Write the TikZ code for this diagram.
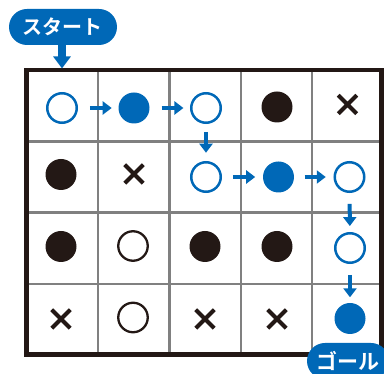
\documentclass[tikz,border=0pt]{standalone}
\usepackage{fontspec}
\newfontfamily\cjk{Noto Sans CJK JP Bold}
\usetikzlibrary{arrows.meta,shapes.misc}
\definecolor{kblue}{RGB}{0,104,183}
\definecolor{kblack}{RGB}{35,24,21}
\definecolor{kgray}{RGB}{128,128,128}
\tikzset{
  opnb/.style={circle,draw=kblue,line width=2.5pt,minimum size=29.5pt,inner sep=0pt,outer sep=0pt},
  filb/.style={circle,fill=kblue,minimum size=31pt,inner sep=0pt,outer sep=0pt},
  opnk/.style={circle,draw=kblack,line width=2.3pt,minimum size=29.5pt,inner sep=0pt,outer sep=0pt},
  filk/.style={circle,fill=kblack,minimum size=31pt,inner sep=0pt,outer sep=0pt},
  crossk/.style={cross out,draw=kblack,line width=4pt,minimum size=18.5pt,inner sep=0pt,outer sep=0pt},
  patharr/.style={draw=kblue,line width=4pt,-{Triangle[length=9pt,width=13pt]}},
  label/.style={fill=kblue,rounded corners=18pt,minimum height=36pt,inner sep=0pt,text=white,font=\cjk\fontsize{20}{20}\selectfont},
  gridline/.style={draw=kgray,line width=2.2pt},
}
\begin{document}
\begin{tikzpicture}[x=1pt,y=-1pt]
\useasboundingbox (0,0) rectangle (384,374);
\clip (0,0) rectangle (384,374);
% inner grid lines
\foreach \xx in {97.7,169.5,240.7,311.8} \draw[gridline] (\xx,70) -- (\xx,354.5);
\foreach \yy in {141.5,212.5,284} \draw[gridline] (26.5,\yy) -- (381.5,\yy);
% board border
\node[draw=kblack,line width=4.2pt,minimum width=355pt,minimum height=284.5pt,inner sep=0pt,outer sep=0pt] (board) at (204,212.25) {};
% row 0
\node[opnb] (c00) at (62,108) {};
\node[filb] (c10) at (134,108) {};
\node[opnb] (c20) at (206,108) {};
\node[filk] (c30) at (277,107) {};
\node[crossk] (c40) at (347.5,104.5) {};
% row 1
\node[filk] (c01) at (61,174.5) {};
\node[crossk] (c11) at (134,174) {};
\node[opnb] (c21) at (206,177) {};
\node[filb] (c31) at (278.5,177) {};
\node[opnb] (c41) at (349.5,177) {};
% row 2
\node[filk] (c02) at (61,246.5) {};
\node[opnk] (c12) at (133,246) {};
\node[filk] (c22) at (205,246.5) {};
\node[filk] (c32) at (277,246.5) {};
\node[opnb] (c42) at (350,248) {};
% row 3
\node[crossk] (c03) at (61,319) {};
\node[opnk] (c13) at (133,317.5) {};
\node[crossk] (c23) at (205,319) {};
\node[crossk] (c33) at (277,319) {};
\node[filb] (c43) at (350,318.5) {};
% path arrows
\draw[patharr,shorten <=13pt,shorten >=6.8pt] (c00) -- (c10);
\draw[patharr,shorten <=12pt,shorten >=7.8pt] (c10) -- (c20);
\draw[patharr,shorten <=9.2pt,shorten >=9.5pt] (c20) -- (c21);
\draw[patharr,shorten <=12pt,shorten >=7.8pt] (c21) -- (c31);
\draw[patharr,shorten <=10.5pt,shorten >=9pt] (c31) -- (c41);
\draw[patharr,shorten <=12.2pt,shorten >=7.2pt] (c41) -- (c42);
\draw[patharr,shorten <=12.2pt,shorten >=5.7pt] (c42) -- (c43);
% labels
\node[label,minimum width=108pt] (start) at (63,27) {スタート};
\node[label,minimum width=82pt,font=\cjk\fontsize{21}{21}\selectfont] (goal) at (348,361) {ゴール};
\draw[draw=kblue,line width=8pt,-{Triangle[length=12pt,width=17pt]},shorten >=1.5pt] (start.south -| c00) -- (board.north -| c00);
\end{tikzpicture}
\end{document}
